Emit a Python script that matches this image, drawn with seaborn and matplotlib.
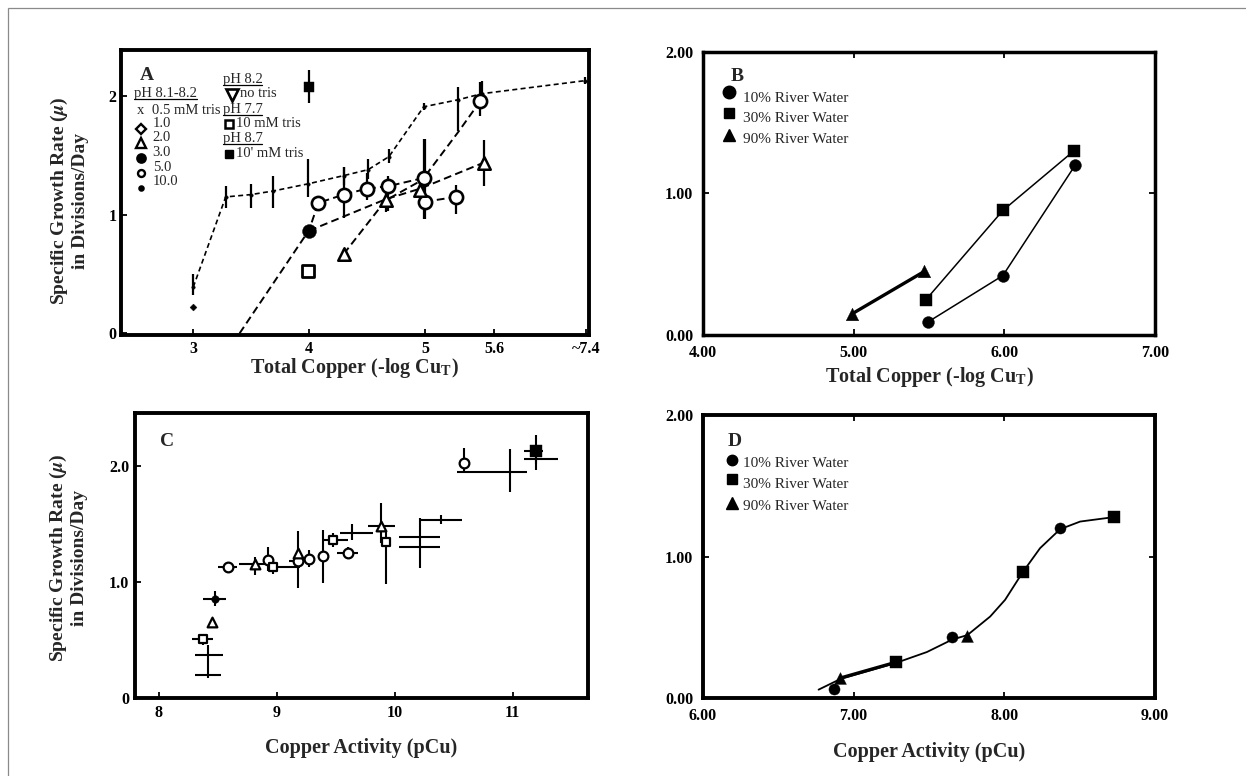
import numpy as np
import matplotlib
matplotlib.use("Agg")
import matplotlib.pyplot as plt
import seaborn as sns
from matplotlib.lines import Line2D
from matplotlib.patches import Rectangle

# ================= Panel A : growth rate vs total copper =================
a_xticks = [3, 4, 5, 5.6, 6.39]
a_xticklabels = ["3", "4", "5", "5.6", "~7.4"]
a_yticks = [0, 1, 2]
a_yticklabels = ["0", "1", "2"]

# small-dot series (10.0 mM tris) with vertical error bars
a_dot_x  = [3.00, 3.28, 3.50, 3.69, 3.99, 4.30, 4.51, 4.69, 4.99, 5.29, 5.49, 6.38]
a_dot_y  = [0.39, 1.15, 1.17, 1.20, 1.26, 1.33, 1.38, 1.49, 1.91, 1.97, 2.02, 2.13]
a_dot_lo = [0.32, 1.06, 1.06, 1.06, 1.15, 1.25, 1.30, 1.44, 1.88, 1.71, 1.91, 2.10]
a_dot_hi = [0.50, 1.24, 1.26, 1.33, 1.47, 1.40, 1.47, 1.55, 1.94, 2.08, 2.13, 2.16]

# open circles (5.0 mM tris)
a_circ_line_x = [3.40, 4.00, 4.08, 4.30, 4.50, 4.68, 4.99, 5.29, 5.48]
a_circ_line_y = [0.00, 0.87, 1.10, 1.17, 1.22, 1.24, 1.31, 1.70, 1.96]
a_circ2_line_x = [5.00, 5.27]
a_circ2_line_y = [1.11, 1.15]
a_circ_x  = [4.08, 4.30, 4.50, 4.68, 4.99, 5.00, 5.27, 5.48]
a_circ_y  = [1.10, 1.17, 1.22, 1.24, 1.31, 1.11, 1.15, 1.96]
a_circ_lo = [1.05, 0.97, 1.12, 1.03, 0.96, 0.96, 1.01, 1.83]
a_circ_hi = [1.15, 1.40, 1.35, 1.33, 1.64, 1.64, 1.25, 2.12]

# filled circle (3.0 mM tris)
a_fcirc_line_x = [4.00, 4.66, 4.96, 5.51]
a_fcirc_line_y = [0.865, 1.13, 1.22, 1.44]
a_fcirc_x = [4.00]
a_fcirc_y = [0.865]

# open triangles (2.0 mM tris)
a_tri_line_x = [4.30, 4.66, 4.99]
a_tri_line_y = [0.67, 1.12, 1.30]
a_tri_x  = [4.30, 4.66, 4.96, 5.51]
a_tri_y  = [0.67, 1.12, 1.21, 1.44]
a_tri_lo = [0.62, 1.02, 1.15, 1.24]
a_tri_hi = [0.71, 1.20, 1.27, 1.63]

# squares and diamond
a_osq_x = [3.99]
a_osq_y = [0.525]
a_fsq_x = [4.00]
a_fsq_y = [2.08]
a_fsq_lo = [1.94]
a_fsq_hi = [2.22]
a_dia_x = [3.00]
a_dia_y = [0.22]

# ================= Panel B : river water, total copper =================
b_xticks = [4, 5, 6, 7]
b_xticklabels = ["4.00", "5.00", "6.00", "7.00"]
b_yticks = [0, 1, 2]
b_yticklabels = ["0.00", "1.00", "2.00"]
b_circ_x = [5.49, 5.99, 6.47]
b_circ_y = [0.09, 0.42, 1.20]
b_sq_x = [5.48, 5.99, 6.46]
b_sq_y = [0.25, 0.88, 1.30]
b_tri_x = [4.99, 5.47]
b_tri_y = [0.15, 0.45]

# ================= Panel C : growth rate vs copper activity =================
c_xticks = [8, 9, 10, 11]
c_xticklabels = ["8", "9", "10", "11"]
c_yticks = [0, 1, 2]
c_yticklabels = ["0", "1.0", "2.0"]
nan = np.nan
c_kind = ["fcircle", "tri", "square", "none", "none", "circle", "tri", "circle",
          "square", "tri", "circle", "circle", "circle", "square", "circle", "none",
          "tri", "square", "none", "none", "none", "circle", "none", "fsquare", "none"]
c_x   = [8.475, 8.447, 8.376, 8.418, 8.418, 8.583, 8.814, 8.927, 8.97, 9.18, 9.177,
         9.275, 9.394, 9.479, 9.60, 9.634, 9.88, 9.925, 10.21, 10.21, 10.39, 10.587,
         10.977, 11.198, 11.20]
c_y   = [0.855, 0.653, 0.51, 0.374, 0.20, 1.131, 1.16, 1.188, 1.131, 1.25, 1.18,
         1.203, 1.229, 1.361, 1.252, 1.425, 1.482, 1.344, 1.39, 1.30, 1.54, 2.03,
         1.95, 2.13, 2.064]
c_xlo = [8.376, nan, 8.277, 8.305, 8.305, 8.50, 8.68, nan, 8.93, nan, 9.10,
         nan, nan, 9.40, 9.506, 9.535, 9.775, nan, 10.04, 10.04, 10.21, nan,
         10.525, 11.10, 11.10]
c_xhi = [8.568, nan, 8.46, 8.545, 8.53, 8.66, 8.94, nan, 9.20, nan, 9.25,
         nan, nan, 9.60, 9.69, 9.818, 10.0, nan, 10.38, 10.38, 10.57, nan,
         11.12, 11.26, 11.387]
c_ylo = [0.79, 0.62, 0.46, 0.245, 0.17, nan, 1.06, 1.10, 1.07, 0.95, nan,
         1.13, 0.99, 1.30, 1.20, 1.36, 1.34, 0.98, 1.12, nan, 1.50, 1.96,
         1.78, 1.97, 2.02]
c_yhi = [0.92, 0.69, 0.55, 0.46, 0.245, nan, 1.22, 1.30, 1.17, 1.44, nan,
         1.28, 1.45, 1.42, 1.30, 1.50, 1.68, 1.44, 1.55, nan, 1.58, 2.16,
         2.15, 2.27, 2.10]

# ================= Panel D : river water, copper activity =================
d_xticks = [6, 7, 8, 9]
d_xticklabels = ["6.00", "7.00", "8.00", "9.00"]
d_yticks = [0, 1, 2]
d_yticklabels = ["0.00", "1.00", "2.00"]
d_circ_x = [6.871, 7.652, 8.37]
d_circ_y = [0.064, 0.428, 1.205]
d_sq_x = [7.278, 8.122, 8.728]
d_sq_y = [0.252, 0.889, 1.278]
d_tri_x = [6.911, 7.755]
d_tri_y = [0.141, 0.435]
d_curve_x = [6.767, 6.911, 7.278, 7.486, 7.652, 7.755, 7.906, 8.005, 8.122, 8.237, 8.37, 8.503, 8.724]
d_curve_y = [0.059, 0.134, 0.247, 0.325, 0.412, 0.445, 0.576, 0.694, 0.889, 1.059, 1.193, 1.247, 1.278]

legend_labels = ["10% River Water", "30% River Water", "90% River Water"]
ylabel_text = "Specific Growth Rate ($\\mu$)\nin Divisions/Day"

# ---------------------------------------------------------------------------
sns.set_theme(style="white")
plt.rcParams["font.family"] = ["Liberation Serif", "DejaVu Serif"]
plt.rcParams["mathtext.fontset"] = "stix"
plt.rcParams["font.weight"] = "bold"

fig = plt.figure(figsize=(12.46, 7.76), dpi=100)
fig.patch.set_facecolor("white")

axA = fig.add_axes([0.0971, 0.5683, 0.3756, 0.3673])
axB = fig.add_axes([0.5642, 0.5683, 0.3628, 0.3647])
axC = fig.add_axes([0.1083, 0.1005, 0.3636, 0.3673])
axD = fig.add_axes([0.5642, 0.1005, 0.3628, 0.3647])

DASH = (0, (4.0, 2.2))
DASH_FINE = (0, (3.0, 2.0))


def line(ax, x, y, lw=1.3, ls=DASH):
    sns.lineplot(x=x, y=y, sort=False, estimator=None, color="black",
                 linewidth=lw, linestyle=ls, ax=ax, zorder=2)


def pts(ax, x, y, marker, ms, filled, mew=1.6):
    sns.scatterplot(x=x, y=y, marker=marker, s=ms ** 2,
                    color="black" if filled else "white",
                    edgecolor="black", linewidth=(0.3 if filled else mew),
                    ax=ax, zorder=4, clip_on=False)


def vbars(ax, x, lo, hi, lw=1.5):
    for xi, l, h in zip(x, lo, hi):
        if not (np.isnan(l) or np.isnan(h)):
            ax.vlines(xi, l, h, colors="black", linewidth=lw, zorder=3)


def hbars(ax, y, lo, hi, lw=1.5):
    for yi, l, h in zip(y, lo, hi):
        if not (np.isnan(l) or np.isnan(h)):
            ax.hlines(yi, l, h, colors="black", linewidth=lw, zorder=3)


def style_axes(ax, xt, xtl, yt, ytl, xlim, ylim, spine_lw, xpad, ypad, box_ticks):
    ax.set_xlim(*xlim)
    ax.set_ylim(*ylim)
    ax.set_xticks(xt)
    ax.set_xticklabels(xtl, fontsize=11.5, fontweight="bold")
    ax.set_yticks(yt)
    ax.set_yticklabels(ytl, fontsize=11.5, fontweight="bold")
    for s in ax.spines.values():
        s.set_linewidth(spine_lw)
        s.set_color("black")
        s.set_visible(True)
    ax.tick_params(axis="x", direction="in", length=4, width=1.3, pad=xpad,
                   top=box_ticks, bottom=True, colors="black")
    ax.tick_params(axis="y", direction="in", length=4, width=1.3, pad=ypad,
                   right=box_ticks, left=True, colors="black")
    ax.grid(False)


# ----------------------------- Panel A -----------------------------------
axA.set_xlabel("")
line(axA, a_dot_x, a_dot_y, lw=1.2, ls=DASH_FINE)
line(axA, a_circ_line_x, a_circ_line_y, lw=1.4)
line(axA, a_circ2_line_x, a_circ2_line_y, lw=1.4)
line(axA, a_fcirc_line_x, a_fcirc_line_y, lw=1.4)
line(axA, a_tri_line_x, a_tri_line_y, lw=1.4)
vbars(axA, a_dot_x, a_dot_lo, a_dot_hi, lw=1.6)
vbars(axA, a_circ_x, a_circ_lo, a_circ_hi, lw=1.6)
vbars(axA, a_tri_x, a_tri_lo, a_tri_hi, lw=1.6)
vbars(axA, a_fsq_x, a_fsq_lo, a_fsq_hi, lw=1.6)
pts(axA, a_dot_x, a_dot_y, "o", 2.5, True)
pts(axA, a_dia_x, a_dia_y, "D", 3.5, True)
pts(axA, a_circ_x, a_circ_y, "o", 9.5, False, mew=1.9)
pts(axA, a_fcirc_x, a_fcirc_y, "o", 10, True)
pts(axA, a_tri_x, a_tri_y, "^", 9, False, mew=1.8)
pts(axA, a_osq_x, a_osq_y, "s", 8, False, mew=2.0)
pts(axA, a_fsq_x, a_fsq_y, "s", 6.5, True)
style_axes(axA, a_xticks, a_xticklabels, a_yticks, a_yticklabels,
           (2.376, 6.417), (-0.014, 2.389), 2.8, 4, 3, False)

# legend of panel A (manual, like the original)
TA = axA.transAxes
axA.text(0.055, 0.912, "A", transform=TA, fontsize=14, fontweight="bold",
         ha="center", va="center")
hdr_kw = dict(transform=TA, fontsize=10.5, fontweight="normal", ha="left", va="center")
underlined = []
underlined.append(axA.text(0.0278, 0.8456, "pH 8.1-8.2", **hdr_kw))
axA.text(0.033, 0.789, "x", **hdr_kw)
axA.text(0.0656, 0.789, "0.5 mM tris", **hdr_kw)
leg_rows = [("1.0", 0.743, 0.723, "D", 5.5, False),
            ("2.0", 0.692, 0.673, "^", 7, False),
            ("3.0", 0.640, 0.620, "o", 6, True),
            ("5.0", 0.588, 0.569, "o", 5, False),
            ("10.0", 0.538, 0.517, "o", 3, True)]
for lab, ty, my, mk, ms, filled in leg_rows:
    axA.text(0.0677, ty, lab, **hdr_kw)
    axA.plot([0.0427], [my], marker=mk, ms=ms, transform=TA, color="black",
             mfc="black" if filled else "white", mec="black", mew=1.7, ls="none",
             clip_on=False, zorder=5)
underlined.append(axA.text(0.2173, 0.897, "pH 8.2", **hdr_kw))
axA.plot([0.2365], [0.842], marker="v", ms=8, transform=TA, mfc="white",
         mec="black", mew=1.9, ls="none")
axA.text(0.254, 0.848, "no tris", **hdr_kw)
underlined.append(axA.text(0.2173, 0.792, "pH 7.7", **hdr_kw))
axA.plot([0.2308], [0.740], marker="s", ms=5.5, transform=TA, mfc="white",
         mec="black", mew=1.8, ls="none")
axA.text(0.2457, 0.743, "10 mM tris", **hdr_kw)
underlined.append(axA.text(0.2173, 0.688, "pH 8.7", **hdr_kw))
axA.plot([0.2308], [0.634], marker="s", ms=6, transform=TA, mfc="black",
         mec="black", mew=1, ls="none")
axA.text(0.2457, 0.637, "10' mM tris", **hdr_kw)

axA.set_xlabel("Total Copper (-log Cu$_\\mathregular{T}$)", fontsize=14.5,
               fontweight="bold")
axA.xaxis.set_label_coords(0.5, -0.116)
axA.xaxis.label.set_va("center")
axA.set_ylabel(ylabel_text, fontsize=14, fontweight="bold", linespacing=1.15)
axA.yaxis.set_label_coords(-0.111, 0.47)
axA.yaxis.label.set_va("center")

# ----------------------------- Panel B -----------------------------------
line(axB, b_circ_x, b_circ_y, lw=1.1, ls="-")
line(axB, b_sq_x, b_sq_y, lw=1.1, ls="-")
line(axB, b_tri_x, b_tri_y, lw=2.4, ls="-")
pts(axB, b_circ_x, b_circ_y, "o", 8.5, True)
pts(axB, b_sq_x, b_sq_y, "s", 8, True)
pts(axB, b_tri_x, b_tri_y, "^", 9, True)
style_axes(axB, b_xticks, b_xticklabels, b_yticks, b_yticklabels,
           (4, 7), (0, 2), 2.5, 7, 7, True)

# ----------------------------- Panel C -----------------------------------
hbars(axC, c_y, c_xlo, c_xhi, lw=1.5)
vbars(axC, c_x, c_ylo, c_yhi, lw=1.5)
kind_style = {"circle": ("o", 7, False), "tri": ("^", 7, False),
              "square": ("s", 6, False), "fcircle": ("o", 5.5, True),
              "fsquare": ("s", 8, True)}
for kind, (mk, ms, filled) in kind_style.items():
    xs = [x for x, k in zip(c_x, c_kind) if k == kind]
    ys = [y for y, k in zip(c_y, c_kind) if k == kind]
    pts(axC, xs, ys, mk, ms, filled, mew=1.6)
style_axes(axC, c_xticks, c_xticklabels, c_yticks, c_yticklabels,
           (7.796, 11.639), (0, 2.46), 2.8, 5, 4, False)
axC.text(0.0713, 0.899, "C", transform=axC.transAxes, fontsize=14,
         fontweight="bold", ha="center", va="center")
axC.set_xlabel("Copper Activity (pCu)", fontsize=14.5, fontweight="bold")
axC.xaxis.set_label_coords(0.5, -0.175)
axC.xaxis.label.set_va("center")
axC.set_ylabel(ylabel_text, fontsize=14, fontweight="bold", linespacing=1.15)
axC.yaxis.set_label_coords(-0.148, 0.49)
axC.yaxis.label.set_va("center")

# ----------------------------- Panel D -----------------------------------
line(axD, d_curve_x, d_curve_y, lw=1.3, ls="-")
line(axD, d_tri_x[:1] + d_sq_x[:1], d_tri_y[:1] + d_sq_y[:1], lw=2.4, ls="-")
pts(axD, d_circ_x, d_circ_y, "o", 8, True)
pts(axD, d_sq_x, d_sq_y, "s", 9, True)
pts(axD, d_tri_x, d_tri_y, "^", 8.5, True)
style_axes(axD, d_xticks, d_xticklabels, d_yticks, d_yticklabels,
           (6, 9), (0, 2), 2.8, 7, 7, True)

# legends of B and D
for ax, letter, lpos, mpos, tpos, msz in [
        (axB, "B", (0.075, 0.913), [0.8597, 0.7855, 0.7067], [0.8364, 0.7633, 0.6915], [9, 7.5, 9]),
        (axD, "D", (0.0708, 0.9057), [0.841, 0.774, 0.689], [0.830, 0.753, 0.678], [7.5, 6.5, 8.5])]:
    T = ax.transAxes
    ax.text(lpos[0], lpos[1], letter, transform=T, fontsize=14, fontweight="bold",
            ha="center", va="center")
    mx = 0.0575 if letter == "B" else 0.064
    tx = 0.0878 if letter == "B" else 0.089
    for mk, my, ty, lab, ms in zip(["o", "s", "^"], mpos, tpos, legend_labels, msz):
        ax.plot([mx], [my], marker=mk, ms=ms, color="black", transform=T, ls="none")
        ax.text(tx, ty, lab, transform=T, fontsize=11, fontweight="normal",
                ha="left", va="center")

for ax, yl in [(axB, -0.148), (axD, -0.191)]:
    lab = ("Total Copper (-log Cu$_\\mathregular{T}$)" if ax is axB
           else "Copper Activity (pCu)")
    ax.set_xlabel(lab, fontsize=14.5, fontweight="bold")
    ax.xaxis.set_label_coords(0.5, yl)
    ax.xaxis.label.set_va("center")
    ax.set_ylabel("")

# underline the pH headers in panel A
fig.canvas.draw()
renderer = fig.canvas.get_renderer()
inv = fig.transFigure.inverted()
for t in underlined:
    bb = t.get_window_extent(renderer)
    x0, y0 = inv.transform((bb.x0, bb.y0 + 1.0))
    x1, _ = inv.transform((bb.x1, bb.y0))
    fig.add_artist(Line2D([x0, x1], [y0, y0], color="black", lw=0.9))

# thin grey frame (only top/left visible in original crop)
fig.add_artist(Rectangle((8 / 1246, -0.05), 1.2, 1.05 - 8 / 776 + 0.0,
                         transform=fig.transFigure, fill=False,
                         edgecolor="#8a8a8a", linewidth=0.9))

fig.savefig("out.png", dpi=100, facecolor="white")
